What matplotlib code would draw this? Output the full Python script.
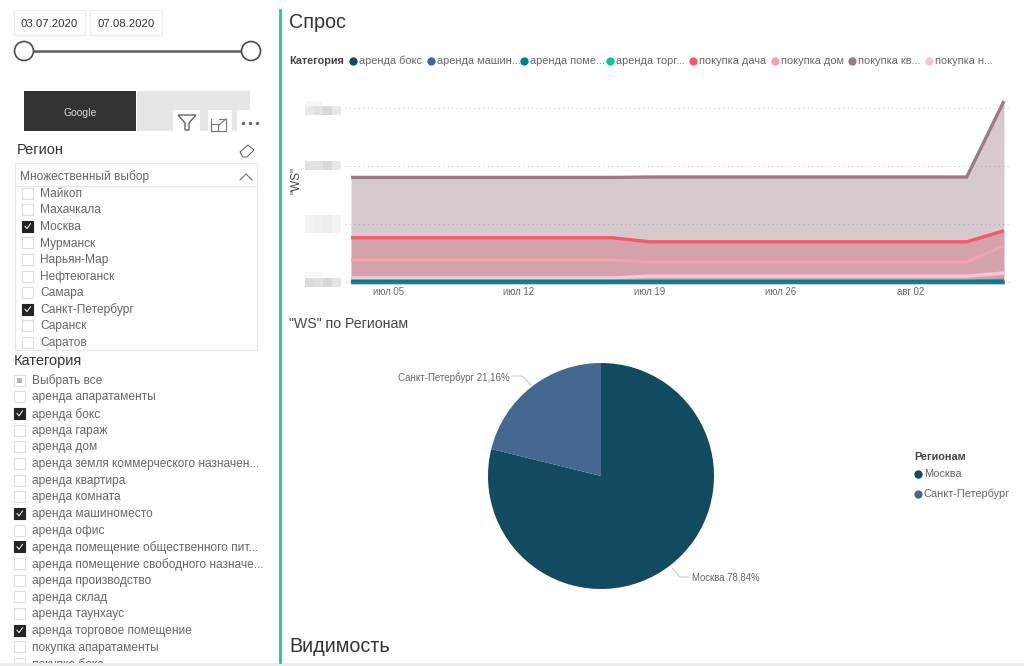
import matplotlib
matplotlib.use("Agg")
import matplotlib.pyplot as plt
import matplotlib.dates as mdates
import pandas as pd
from matplotlib.patches import Rectangle, Circle, Polygon

plt.rcParams["font.family"] = ["Liberation Sans", "DejaVu Sans"]

W, H = 1024, 666
TEXT = "#666666"
DARK = "#333333"

# chart data
dates = pd.to_datetime(["2020-07-03", "2020-07-17", "2020-07-19", "2020-08-05", "2020-08-07"])
box = [4, 4, 4, 4, 4]
parking = [5, 5, 5, 5, 5]
premises = [12, 12, 12, 12, 14]
retail = [8, 8, 8, 8, 30]
dacha = [763, 763, 693, 693, 884]
house = [381, 381, 347, 347, 624]
flat = [1803, 1803, 1810, 1810, 3120]
newbuild = [70, 70, 100, 100, 156]

series_names = ["аренда бокс", "аренда машин...", "аренда поме...", "аренда торг...",
                "покупка дача", "покупка дом", "покупка кв...", "покупка н..."]
series_colors = ["#124A5F", "#44688F", "#00808F", "#10C49B",
                 "#F5586A", "#F2A3AE", "#9B7B85", "#FBC5D1"]
legend_x = [353, 431, 524, 610, 693, 775, 852, 929]

tick_dates = pd.to_datetime(["2020-07-05", "2020-07-12", "2020-07-19", "2020-07-26", "2020-08-02"])
tick_labels = ["июл 05", "июл 12", "июл 19", "июл 26", "авг 02"]

pie_labels = ["Москва", "Санкт-Петербург"]
pie_values = [78.84, 21.16]
pie_colors = ["#124A5F", "#44688F"]

regions = ["Майкоп", "Махачкала", "Москва", "Мурманск", "Нарьян-Мар", "Нефтеюганск",
           "Самара", "Санкт-Петербург", "Саранск", "Саратов"]
regions_checked = ["Москва", "Санкт-Петербург"]

categories = ["Выбрать все", "аренда апаратаменты", "аренда бокс", "аренда гараж", "аренда дом",
              "аренда земля коммерческого назначен...", "аренда квартира", "аренда комната",
              "аренда машиноместо", "аренда офис", "аренда помещение общественного пит...",
              "аренда помещение свободного назначе...", "аренда производство", "аренда склад",
              "аренда таунхаус", "аренда торговое помещение", "покупка апаратаменты", "покупка бокс"]
categories_checked = ["аренда бокс", "аренда машиноместо", "аренда помещение общественного пит...",
                      "аренда торговое помещение"]


def px_axes(fig, left, top, right, bottom):
    return fig.add_axes([left / W, 1 - bottom / H, (right - left) / W, (bottom - top) / H])


def draw_checkbox(ax, x, y, checked, partial=False):
    if checked:
        ax.add_patch(Rectangle((x, y - 5.5), 11, 11, fc="#252423", ec="#252423", lw=0.8))
        ax.plot([x + 3, x + 5, x + 8.5], [y, y + 2.5, y - 2.5], color="white", lw=0.7)
    else:
        ax.add_patch(Rectangle((x, y - 5.5), 11, 11, fc="white", ec="#DEDEDE", lw=0.8))
        if partial:
            ax.add_patch(Rectangle((x + 3, y - 2.5), 5, 5, fc="#B4B4B4", ec="none"))


fig = plt.figure(figsize=(W / 100, H / 100), dpi=100, facecolor="white")

# overlay for slicers and other page furniture, in pixels
page = fig.add_axes([0, 0, 1, 1])
page.set_xlim(0, W)
page.set_ylim(H, 0)
page.axis("off")

page.plot([279.5, 279.5], [10, 662], color="#1CC6A0", lw=2)
page.add_patch(Rectangle((0, 663), W, 3, fc="#EDEDED", ec="none"))

# date slicer
for x0, x1, label in [(14, 85, "03.07.2020"), (90, 162, "07.08.2020")]:
    page.add_patch(Rectangle((x0, 10), x1 - x0, 25, fc="white", ec="#EBEBEB", lw=0.8))
    page.text((x0 + x1) / 2, 24, label, fontsize=8.2, color=DARK, ha="center", va="center")
page.plot([24, 251], [51, 51], color="#605E5C", lw=1.8)
for x in [24, 251]:
    page.add_patch(Circle((x, 51), 9.5, fc="white", ec="#4A4A4A", lw=1.2, zorder=3))

# Google / Yandex buttons with hover icons on top
page.add_patch(Rectangle((24, 91), 112, 40, fc=DARK, ec="none"))
page.add_patch(Rectangle((137, 91), 113, 40, fc="#E6E6E6", ec="none"))
page.text(80, 112.5, "Google", fontsize=7.5, color="#D8D8D8", ha="center", va="center")
for x0, x1 in [(173, 200), (208, 232), (237, 262)]:
    page.add_patch(Rectangle((x0, 110), x1 - x0, 22, fc="white", ec="none"))
page.add_patch(Polygon([(178, 115), (196, 115), (189, 123), (189, 130), (185, 130), (185, 123)],
                       fc="white", ec="#555555", lw=0.9))
page.plot([211, 211, 226, 226, 219], [119, 131, 131, 119, 119], color="#777777", lw=0.8)
page.add_patch(Rectangle((211, 124), 7, 7, fc="white", ec="#777777", lw=0.8))
page.plot([219, 226], [125, 119], color="#777777", lw=0.8)
page.plot([243, 250, 257], [123, 123, 123], ls="none", marker="o", ms=1.4, color="#666666")

# region slicer
page.text(17, 149.5, "Регион", fontsize=10.5, color=DARK, va="center")
page.add_patch(Polygon([(240, 152), (248, 145), (254, 150), (247, 157), (243, 157)],
                       fc="white", ec="#555555", lw=0.7))
page.add_patch(Rectangle((15, 186), 242, 164, fc="white", ec="#E6E6E6", lw=0.8))
for i, name in enumerate(regions):
    y = 193 + 16.6 * i
    draw_checkbox(page, 22, y, name in regions_checked)
    page.text(40, y + 0.7, name, fontsize=8.6, color=TEXT, va="center")
page.add_patch(Rectangle((14, 350.5), 245, 2, fc="white", ec="none", zorder=4))
page.add_patch(Rectangle((15, 163), 242, 23, fc="white", ec="#E6E6E6", lw=0.8, zorder=4))
page.text(20, 176.5, "Множественный выбор", fontsize=8.6, color=TEXT, va="center", zorder=5)
page.plot([240, 246, 252], [180, 174, 180], color="#777777", lw=0.8, zorder=5)

# category slicer
page.text(14, 361, "Категория", fontsize=10.5, color=DARK, va="center")
for i, name in enumerate(categories):
    y = 380 + 16.68 * i
    draw_checkbox(page, 14, y, name in categories_checked, partial=(i == 0))
    page.text(32, y + 0.7, name, fontsize=8.6, color=TEXT, va="center")
page.add_patch(Rectangle((0, 663), 279, 3, fc="#EDEDED", ec="none", zorder=4))

# titles
page.text(289, 22.5, "Спрос", fontsize=14.2, color=DARK, va="center")
page.text(289, 323.5, '"WS" по Регионам', fontsize=10.2, color="#444444", va="center")
page.text(289, 646, "Видимость", fontsize=14.2, color=DARK, va="center")

# chart legend
page.text(289, 61, "Категория", fontsize=7.8, color="#444444", va="center", fontweight="bold")
for x, name, color in zip(legend_x, series_names, series_colors):
    page.plot([x], [61], marker="o", ms=6, color=color, mec="none")
    page.text(x + 6, 61, name, fontsize=7.9, color=TEXT, va="center")

# blurred y axis labels, four pixelated cells per label
for y, h, shades in [(110, 9, ["#E8E8E8", "#E2E2E2", "#D8D8D8", "#E8E8E8"]),
                     (165, 9, ["#E2E2E2", "#E2E2E2", "#D8D8D8", "#E8E8E8"]),
                     (224, 18, ["#F2F2F2", "#F0F0F0", "#ECECEC", "#F4F4F4"]),
                     (282, 9, ["#DCDCDC", "#E0E0E0", "#D6D6D6", "#E4E4E4"])]:
    for k, shade in enumerate(shades):
        page.add_patch(Rectangle((305 + 9 * k, y - h / 2), 9, h, fc=shade, ec="none"))
for y in [101, 272]:
    page.add_patch(Rectangle((305, y), 18, 5, fc="#F6F6F6", ec="none"))
page.text(296, 180, '"WS"', fontsize=8.5, color="#444444", rotation=90, ha="center", va="center")

# area chart, overlapping areas drawn in legend order
ax = px_axes(fig, 345, 98, 1010, 283)
ax.patch.set_alpha(0)
x_values = mdates.date2num(dates)
all_series = [box, parking, premises, retail, dacha, house, flat, newbuild]
fill_alpha = [0.4, 0.4, 0.4, 0.4, 0.4, 0.0, 0.4, 0.0]
for values, color, alpha in zip(all_series, series_colors, fill_alpha):
    if alpha > 0:
        ax.fill_between(x_values, 0, values, color=color, alpha=alpha, lw=0)
# lines on top, low rental series last so the teal one shows along the floor
for i in [6, 4, 5, 7, 0, 1, 3, 2]:
    ax.plot(x_values, all_series[i], color=series_colors[i], lw=2.4, solid_joinstyle="miter",
            solid_capstyle="butt", clip_on=False)
ax.set_xlim(x_values[0] - 6 / 18.6, x_values[-1] + 6 / 18.6)
ax.set_ylim(-17, 3172)
ax.set_yticks([0, 1000, 2000, 3000])
ax.set_yticklabels([])
ax.grid(axis="y", color="#C8C8C8", ls=(0, (1, 3)), lw=0.8)
ax.set_axisbelow(True)
ax.set_xticks(mdates.date2num(tick_dates))
ax.set_xticklabels(tick_labels, fontsize=6.9, color=TEXT)
ax.tick_params(length=0, pad=3)
for side in ax.spines.values():
    side.set_visible(False)

# pie
pie_ax = px_axes(fig, 488, 363, 714, 589)
pie_ax.pie(pie_values, colors=pie_colors, startangle=90, counterclock=False, radius=1.0)
pie_ax.set_xlim(-1, 1)
pie_ax.set_ylim(-1, 1)

page.plot([513, 522, 531], [376, 376, 385], color="#C4C4C4", lw=0.7)
page.text(510, 378, "Санкт-Петербург 21,16%", fontsize=7.0, color=TEXT, ha="right", va="center")
page.plot([672, 680, 689], [568, 577, 577], color="#C4C4C4", lw=0.7, zorder=5)
page.text(692, 577.5, "Москва 78,84%", fontsize=6.9, color=TEXT, va="center")

# pie legend
page.text(914, 457, "Регионам", fontsize=7.8, color="#444444", va="center", fontweight="bold")
for y, name, color in zip([474, 494], pie_labels, pie_colors):
    page.plot([918], [y], marker="o", ms=6, color=color, mec="none")
    page.text(924, y, name, fontsize=7.9, color=TEXT, va="center")

fig.savefig("out.png", dpi=100)
